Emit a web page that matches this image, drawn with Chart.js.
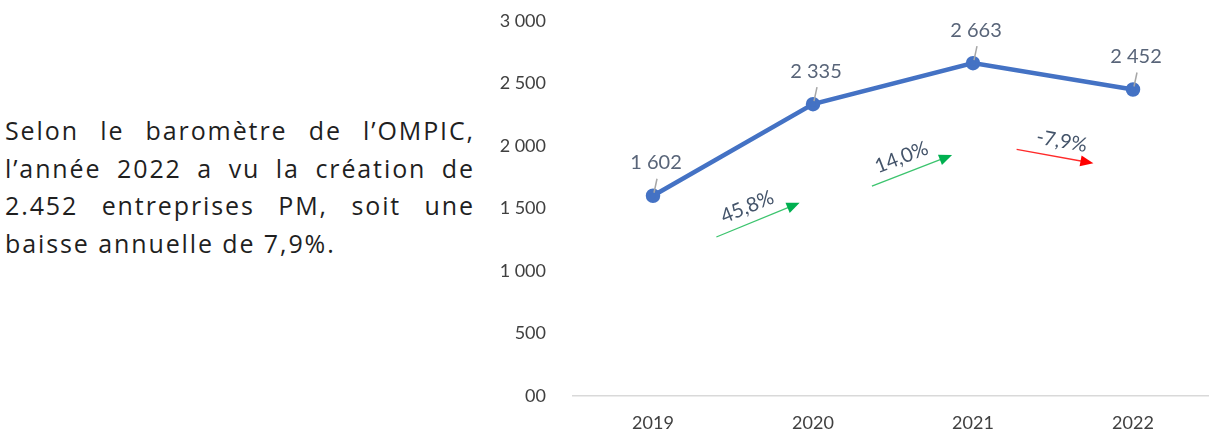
<!DOCTYPE html>
<html>
<head>
<meta charset="utf-8">
<script src="https://cdn.jsdelivr.net/npm/chart.js@4"></script>
<style>
  html, body { margin: 0; padding: 0; background: #fff; overflow: hidden; }
  body { width: 1209px; height: 435px; position: relative; }
  .note {
    position: absolute; left: 5px; top: 112px; width: 470px;
    font-family: 'Open Sans', sans-serif; font-size: 25px; line-height: 37.5px;
    letter-spacing: 1.9px; color: #1f1f1f;
  }
  .note div { text-align: justify; text-align-last: justify; white-space: nowrap; }
  .note div.last { text-align-last: left; }
  #chart { position: absolute; left: 490px; top: 0; }
</style>
</head>
<body>
<div class="note">
  <div>Selon le baromètre de l’OMPIC,</div>
  <div>l’année 2022 a vu la création de</div>
  <div>2.452 entreprises PM, soit une</div>
  <div class="last">baisse annuelle de 7,9%.</div>
</div>
<canvas id="chart" width="723" height="435"></canvas>
<script>
const years = ['2019', '2020', '2021', '2022'];
const creations = [1602, 2335, 2663, 2452];
const growth = ['45,8%', '14,0%', '-7,9%'];
const yTicks = [0, 500, 1000, 1500, 2000, 2500, 3000];

// where each growth arrow sits, relative to the middle of its line segment
const arrowLayout = [
  { dx: 25, dy: 70, angle: -22.3, len: 90 },
  { dx: 19, dy: 87, angle: -21.2, len: 86 },
  { dx: 2, dy: 80, angle: 10.3, len: 78 },
];

const fmt = (v) => (v === 0 ? '00' : String(v).replace(/\B(?=(\d{3})+(?!\d))/g, ' '));
const FONT = 'Lato, "Open Sans", sans-serif';

const labelsPlugin = {
  id: 'labels',
  afterDatasetsDraw(chart) {
    const { ctx } = chart;
    const meta = chart.getDatasetMeta(0);
    const pts = meta.data;
    ctx.save();

    // value labels with small leader lines
    pts.forEach((p, i) => {
      ctx.strokeStyle = '#a6a6a6';
      ctx.lineWidth = 1.5;
      ctx.beginPath();
      ctx.moveTo(p.x + 1, p.y - 3);
      ctx.lineTo(p.x + 4, p.y - 17);
      ctx.stroke();
      ctx.fillStyle = '#596579';
      ctx.font = '20px ' + FONT;
      ctx.textAlign = 'center';
      ctx.textBaseline = 'middle';
      ctx.fillText(fmt(creations[i]), p.x + 3, p.y - 33);
    });

    // growth arrows between years
    growth.forEach((txt, i) => {
      const a = pts[i];
      const b = pts[i + 1];
      const lay = arrowLayout[i];
      const cx = (a.x + b.x) / 2 + lay.dx;
      const cy = (a.y + b.y) / 2 + lay.dy;
      const th = lay.angle * Math.PI / 180;
      const up = !txt.startsWith('-');
      const lineCol = up ? '#3cc46e' : '#ff2a2a';
      const headCol = up ? '#00b050' : '#ff0000';

      ctx.save();
      ctx.translate(cx, cy);
      ctx.rotate(th);
      ctx.strokeStyle = lineCol;
      ctx.lineWidth = 1.3;
      ctx.beginPath();
      ctx.moveTo(-lay.len / 2, 0);
      ctx.lineTo(lay.len / 2 - 10, 0);
      ctx.stroke();
      ctx.fillStyle = headCol;
      ctx.beginPath();
      ctx.moveTo(lay.len / 2, 0);
      ctx.lineTo(lay.len / 2 - 13, -5.5);
      ctx.lineTo(lay.len / 2 - 13, 5.5);
      ctx.closePath();
      ctx.fill();

      ctx.fillStyle = '#44546a';
      ctx.font = '20px ' + FONT;
      ctx.textAlign = 'center';
      ctx.textBaseline = 'middle';
      ctx.fillText(txt, up ? -5 : 4, -16);
      ctx.restore();
    });

    ctx.restore();
  },
};

new Chart(document.getElementById('chart'), {
  type: 'line',
  data: {
    labels: years,
    datasets: [
      {
        data: creations,
        borderColor: '#4472c4',
        backgroundColor: '#4472c4',
        borderWidth: 4.5,
        pointRadius: 5,
        pointHoverRadius: 5,
        tension: 0,
      },
    ],
  },
  options: {
    responsive: false,
    animation: false,
    events: [],
    layout: { autoPadding: false, padding: { top: 21, left: 0, right: 0, bottom: 0 } },
    plugins: { legend: { display: false }, tooltip: { enabled: false } },
    scales: {
      x: {
        offset: true,
        grid: { display: false },
        border: { color: '#d9d9d9', width: 1.5 },
        ticks: { color: '#404040', font: { family: FONT, size: 18 }, padding: 8 },
        afterFit(s) { s.height = 39; },
      },
      y: {
        min: 0,
        max: 3000,
        afterBuildTicks(s) { s.ticks = yTicks.map((v) => ({ value: v })); },
        grid: { display: false },
        border: { display: false },
        ticks: {
          color: '#404040',
          font: { family: FONT, size: 18 },
          padding: 19,
          callback: (v) => fmt(v),
        },
        afterFit(s) {
          s.width = 83;
          s.paddingTop = 0;
          s.paddingBottom = 0;
        },
      },
    },
  },
  plugins: [labelsPlugin],
});
</script>
</body>
</html>
